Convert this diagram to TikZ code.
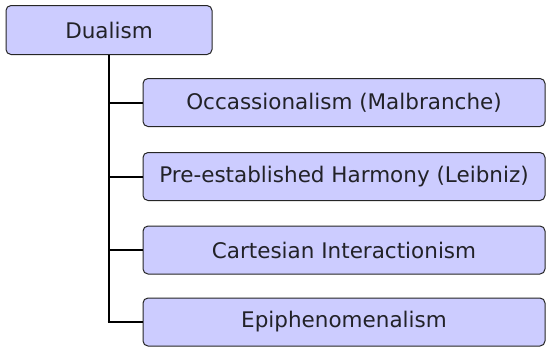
\documentclass[tikz,border=0pt]{standalone}
\usepackage{fontspec}
\setmainfont{DejaVu Sans}
\definecolor{boxfill}{RGB}{204,204,255}
\definecolor{boxtext}{RGB}{34,34,40}
\tikzset{
  box/.style={draw=black!85, line width=1pt, fill=boxfill, rounded corners=5pt,
    text=boxtext, font=\fontsize{21.5}{24}\selectfont, inner sep=0pt},
  rootbox/.style={box, minimum width=206pt, minimum height=49pt},
  childbox/.style={box, minimum width=402pt, minimum height=48pt},
  trunk/.style={line width=2.6pt},
  branch/.style={line width=2pt}
}
\begin{document}
\begin{tikzpicture}[x=1pt, y=1pt]
\useasboundingbox (0,0) rectangle (546,-346);
\node[rootbox](D) at (109, -30) {Dualism};
\node[childbox](O) at (344, -102.5) {Occassionalism (Malbranche)};
\node[childbox](P) at (344, -176.5) {Pre-established Harmony (Leibniz)};
\node[childbox](C) at (344, -250) {Cartesian Interactionism};
\node[childbox](E) at (344, -322) {Epiphenomenalism};
\draw[trunk] (D.south) -- (D.south |- E.west);
\draw[branch]
(D.south |- O.west) -- (O.west)
(D.south |- P.west) -- (P.west)
(D.south |- C.west) -- (C.west)
([xshift=-1.3pt]D.south |- E.west) -- (E.west);
\end{tikzpicture}
\end{document}
